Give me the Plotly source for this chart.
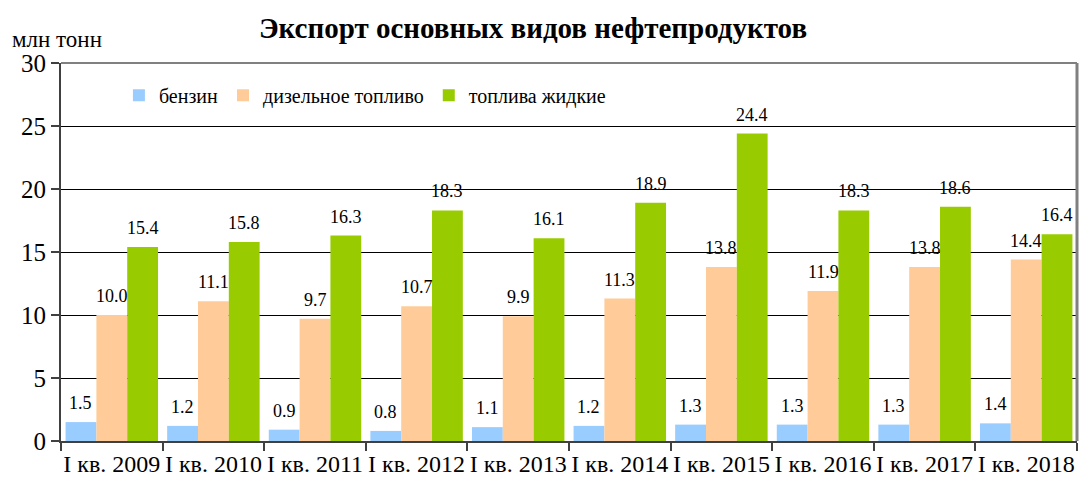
import plotly.graph_objects as go

categories = ["I кв. 2009", "I кв. 2010", "I кв. 2011", "I кв. 2012", "I кв. 2013",
              "I кв. 2014", "I кв. 2015", "I кв. 2016", "I кв. 2017", "I кв. 2018"]
benzin = [1.5, 1.2, 0.9, 0.8, 1.1, 1.2, 1.3, 1.3, 1.3, 1.4]
diesel = [10.0, 11.1, 9.7, 10.7, 9.9, 11.3, 13.8, 11.9, 13.8, 14.4]
fuel = [15.4, 15.8, 16.3, 18.3, 16.1, 18.9, 24.4, 18.3, 18.6, 16.4]
series_names = ["бензин", "дизельное топливо", "топлива жидкие"]
colors = ["#99CCFF", "#FFCC99", "#99CC00"]
y_ticks = [0, 5, 10, 15, 20, 25, 30]

FONT = "Liberation Serif"
bargap = 0.09
W, H = 1080, 483
L, R, T, B = 61, 3, 63, 42
PH = H - T - B
PW = W - L - R

fig = go.Figure()
all_series = [benzin, diesel, fuel]
for name, vals, col in zip(series_names, all_series, colors):
    fig.add_trace(go.Bar(x=categories, y=vals, name=name, marker=dict(color=col, line=dict(width=0))))

# value labels above bars
bw = (1 - bargap) / 3
annotations = []
for k, vals in enumerate(all_series):
    off = (k - 1) * bw
    for i, v in enumerate(vals):
        annotations.append(dict(x=i + off, y=v, xref="x", yref="y", text=f"{v:.1f}",
                                showarrow=False, yanchor="middle", yshift=19,
                                font=dict(family=FONT, size=18, color="#000")))

annotations.append(dict(x=(10 - L) / PW, y=1 + (T - 40) / PH, xref="paper", yref="paper",
                        xanchor="left", yanchor="middle", text="млн тонн", showarrow=False,
                        font=dict(family=FONT, size=23, color="#000")))

fig.update_layout(
    width=W, height=H,
    margin=dict(l=L, r=R, t=T, b=B),
    paper_bgcolor="white", plot_bgcolor="white",
    barmode="group", bargap=bargap, bargroupgap=0,
    title=dict(text="<b>Экспорт основных видов нефтепродуктов</b>", x=533 / W, xanchor="center",
               y=1 - 28 / H, yanchor="middle",
               font=dict(family=FONT, size=29, color="#000")),
    legend=dict(orientation="h", x=0.057, y=0.915, xanchor="left", yanchor="middle",
                font=dict(family=FONT, size=20, color="#000"), bgcolor="rgba(0,0,0,0)",
                itemsizing="constant"),
    annotations=annotations,
    font=dict(family=FONT, color="#000"),
)
fig.update_xaxes(showgrid=False, showline=True, linecolor="#404040", linewidth=2,
                 ticks="outside", tickson="boundaries", ticklen=8, tickcolor="#404040", tickwidth=2,
                 tickangle=0, automargin=False,
                 tickfont=dict(family=FONT, size=24, color="#000"))
fig.update_yaxes(range=[0, 30], tickvals=y_ticks, showgrid=True, gridcolor="#000", gridwidth=1,
                 showline=True, linecolor="#404040", linewidth=2, ticks="outside", ticklen=8,
                 tickcolor="#404040", tickwidth=2, zeroline=False, automargin=False,
                 tickfont=dict(family=FONT, size=25, color="#000"))
# top and right border of plot area
fig.add_shape(type="line", xref="paper", yref="paper", x0=0, x1=1, y0=1, y1=1,
              line=dict(color="#808080", width=2))
fig.add_shape(type="line", xref="paper", yref="paper", x0=1, x1=1, y0=0, y1=1,
              line=dict(color="#808080", width=3))

fig.write_html("out.html", config={"displayModeBar": False},
               post_script="document.body.style.margin='0';document.body.style.overflow='hidden';")
